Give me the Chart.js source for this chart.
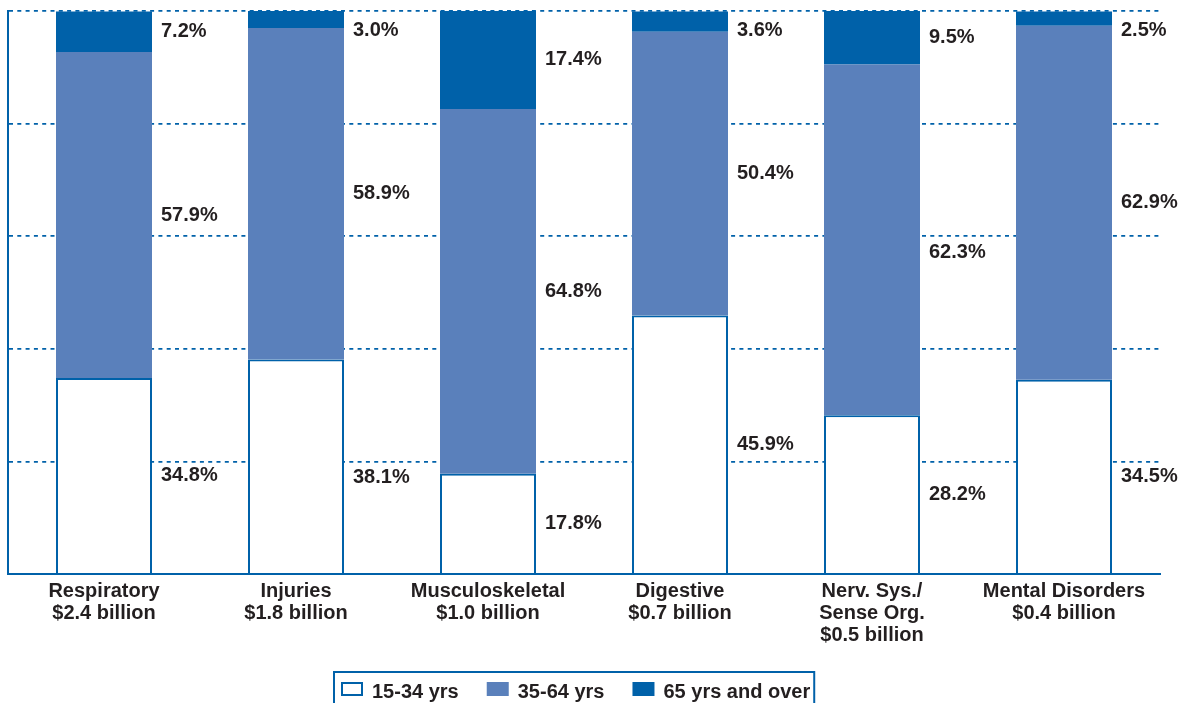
<!DOCTYPE html>
<html><head><meta charset="utf-8">
<script src="https://cdn.jsdelivr.net/npm/chart.js@4/dist/chart.umd.min.js"></script>
<style>html,body{margin:0;padding:0;background:#fff;overflow:hidden}</style>
</head><body>
<canvas id="c" width="1180" height="703"></canvas>
<script>
const categories = [["Respiratory","$2.4 billion"],["Injuries","$1.8 billion"],["Musculoskeletal","$1.0 billion"],["Digestive","$0.7 billion"],["Nerv. Sys./","Sense Org.","$0.5 billion"],["Mental Disorders","$0.4 billion"]];
const seriesNames = ["15-34 yrs","35-64 yrs","65 yrs and over"];
const age15to34 = [34.8,38.1,17.8,45.9,28.2,34.5];
const age35to64 = [57.9,58.9,64.8,50.4,62.3,62.9];
const age65plus = [7.2,3.0,17.4,3.6,9.5,2.5];
const yTicks = [0,20,40,60,80,100];

const BLUE = '#0061A9', MID = '#5A80BB', TEXT = '#231F20';
const FONT = '"Liberation Sans", Arial, Helvetica, sans-serif';
Chart.defaults.font.family = FONT;
Chart.defaults.font.size = 20;
Chart.defaults.font.weight = 'bold';
Chart.defaults.color = TEXT;

const valueLabels = {
  id: 'valueLabels',
  afterDatasetsDraw(chart) {
    const ctx = chart.ctx, top = chart.chartArea.top;
    const ys = chart.scales.y;
    const gridYs = yTicks.map(v => ys.getPixelForValue(v));
    ctx.save();
    ctx.font = 'bold 20px ' + FONT;
    ctx.fillStyle = TEXT;
    ctx.textAlign = 'left';
    ctx.textBaseline = 'middle';
    chart.data.datasets.forEach((ds, i) => {
      chart.getDatasetMeta(i).data.forEach((el, j) => {
        const p = el.getProps(['x','y','base','width'], true);
        let y = (p.y + p.base) / 2;
        y = Math.max(y, top + 19);
        gridYs.forEach(g => {
          if (Math.abs(y - g) < 14) y = y >= g ? g + 16 : g - 16;
        });
        ctx.fillText(ds.data[j].toFixed(1) + '%', p.x + p.width / 2 + 9, y);
      });
    });
    ctx.restore();
  }
};

const boxLegend = {
  id: 'boxLegend',
  afterDraw(chart) {
    const ctx = chart.ctx;
    ctx.save();
    ctx.font = 'bold 20px ' + FONT;
    ctx.textBaseline = 'middle';
    ctx.textAlign = 'left';
    let x = 341;
    const yc = 692;
    const startX = 334;
    chart.data.datasets.forEach(ds => {
      ctx.fillStyle = ds.backgroundColor;
      ctx.fillRect(x, 682, 22, 14);
      if (ds.borderWidth) {
        ctx.strokeStyle = ds.borderColor; ctx.lineWidth = 2;
        ctx.strokeRect(x + 1, 683, 20, 12);
      }
      x += 31;
      ctx.fillStyle = TEXT;
      ctx.fillText(ds.label, x, yc);
      x += ctx.measureText(ds.label).width + 28;
    });
    const endX = x - 28 + 4;
    ctx.strokeStyle = BLUE; ctx.lineWidth = 2;
    ctx.strokeRect(startX, 672, endX - startX, 45);
    ctx.restore();
  }
};

new Chart(document.getElementById('c'), {
  type: 'bar',
  data: {
    labels: categories,
    datasets: [
      { label: seriesNames[0], data: age15to34, backgroundColor: '#FFFFFF', borderColor: BLUE, borderWidth: 2 },
      { label: seriesNames[1], data: age35to64, backgroundColor: MID, borderWidth: 0 },
      { label: seriesNames[2], data: age65plus, backgroundColor: BLUE, borderWidth: 0 }
    ]
  },
  options: {
    responsive: false,
    animation: false,
    devicePixelRatio: 1,
    layout: { padding: { left: 0, top: 11, right: 20, bottom: 0 } },
    datasets: { bar: { categoryPercentage: 1, barPercentage: 0.5 } },
    plugins: { legend: { display: false }, tooltip: { enabled: false } },
    scales: {
      x: {
        stacked: true,
        grid: { display: false, drawTicks: false },
        border: { display: true, color: BLUE, width: 2 },
        ticks: { padding: 6, color: TEXT, font: { size: 20, weight: 'bold', lineHeight: 1.1 }, maxRotation: 0, autoSkip: false },
        afterFit(s) { s.height = 129; }
      },
      y: {
        stacked: true,
        min: 0, max: 100,
        afterBuildTicks(s) { s.ticks = yTicks.map(v => ({ value: v })); },
        grid: { color: BLUE, lineWidth: 1.8, drawTicks: false },
        border: { display: true, color: BLUE, width: 2, dash: [4, 4.3] },
        ticks: { display: false },
        afterFit(s) { s.width = 8; }
      }
    }
  },
  plugins: [valueLabels, boxLegend]
});
</script>
</body></html>
